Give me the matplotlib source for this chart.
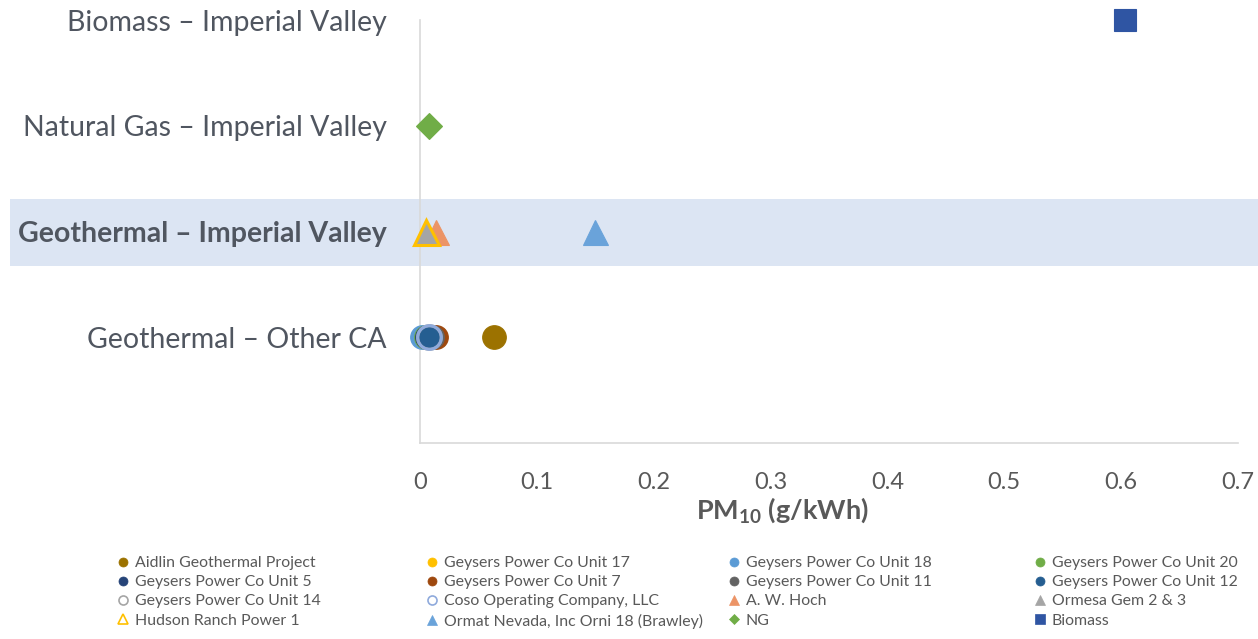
import matplotlib
matplotlib.use("Agg")
import matplotlib.pyplot as plt

plt.rcParams["font.family"] = ["Lato", "DejaVu Sans"]
plt.rcParams["mathtext.fontset"] = "custom"
plt.rcParams["mathtext.bf"] = "Lato:bold"
plt.rcParams["mathtext.rm"] = "Lato"

# rows of the chart, bottom to top
categories = [
    "Geothermal – Other CA",
    "Geothermal – Imperial Valley",
    "Natural Gas – Imperial Valley",
    "Biomass – Imperial Valley",
]

plants = [
    "Aidlin Geothermal Project", "Geysers Power Co Unit 17",
    "Geysers Power Co Unit 18", "Geysers Power Co Unit 20",
    "Geysers Power Co Unit 5", "Geysers Power Co Unit 7",
    "Geysers Power Co Unit 11", "Geysers Power Co Unit 12",
    "Geysers Power Co Unit 14", "Coso Operating Company, LLC",
    "A. W. Hoch", "Ormesa Gem 2 & 3",
    "Hudson Ranch Power 1", "Ormat Nevada, Inc Orni 18 (Brawley)",
    "NG", "Biomass",
]
plant_row = [0, 0, 0, 0, 0, 0, 0, 0, 0, 0, 1, 1, 1, 1, 2, 3]
pm10 = [0.063, 0.007, 0.002, 0.005, 0.006, 0.014, 0.010, 0.008,
        0.008, 0.008, 0.014, 0.005, 0.005, 0.150, 0.008, 0.603]

x_ticks = [0, 0.1, 0.2, 0.3, 0.4, 0.5, 0.6, 0.7]

# marker, face colour, edge colour
styles = [
    ("o", "#9C7200", "#9C7200"),
    ("o", "#FFC000", "#FFC000"),
    ("o", "#5B9BD5", "#5B9BD5"),
    ("o", "#70AD47", "#70AD47"),
    ("o", "#264478", "#264478"),
    ("o", "#9E480E", "#9E480E"),
    ("o", "#636363", "#636363"),
    ("o", "#255E91", "#255E91"),
    ("o", "none", "#A5A5A5"),
    ("o", "none", "#8FAADC"),
    ("^", "#EC9466", "#EC9466"),
    ("^", "#A5A5A5", "#A5A5A5"),
    ("^", "none", "#FFC000"),
    ("^", "#6AA3DA", "#6AA3DA"),
    ("D", "#70AD47", "#70AD47"),
    ("s", "#2F55A3", "#2F55A3"),
]
sizes = {"o": 17, "^": 18, "D": 13, "s": 16}

W, H = 1258, 639
fig = plt.figure(figsize=(W / 100, H / 100), dpi=100)
ax = fig.add_axes([420 / W, 1 - 443 / H, 818 / W, 423 / H])

ax.axhspan(1.67, 2.31, xmin=-0.501, xmax=1.03, color="#DCE5F3",
           zorder=0, clip_on=False, lw=0)

handles = []
for name, row, val, (mk, fc, ec) in zip(plants, plant_row, pm10, styles):
    lw = 2.2 if fc == "none" else 0.8
    (h,) = ax.plot([val], [row + 1], linestyle="none", marker=mk,
                   markersize=sizes[mk], markerfacecolor=fc,
                   markeredgecolor=ec, markeredgewidth=lw, label=name,
                   zorder=3, clip_on=False)
    handles.append(h)

ax.set_xlim(0, 0.7)
ax.set_ylim(0, 4)
ax.set_xticks(x_ticks)
ax.set_xticklabels([f"{t:g}" for t in x_ticks])
ax.set_yticks(range(1, len(categories) + 1))
ax.set_yticklabels(categories)
ax.tick_params(axis="x", length=0, pad=21, labelsize=17, labelcolor="#595959")
ax.tick_params(axis="y", length=0, pad=24, labelsize=20.5, labelcolor="#505660")
ax.get_yticklabels()[1].set_fontweight("bold")

for side in ("top", "right"):
    ax.spines[side].set_visible(False)
for side in ("left", "bottom"):
    ax.spines[side].set_color("#D9D9D9")
    ax.spines[side].set_linewidth(1.2)

ax.set_xlabel(r"$\mathbf{PM_{10}}$ (g/kWh)", fontsize=19.5, fontweight="bold",
              color="#595959")
ax.xaxis.set_label_coords((783 - 420) / 818, -0.125)

# four single-column legends at fixed spacing
fs = 11.4
hl = 0.8
col_px = [123, 432, 734, 1040]
for c, cx in enumerate(col_px):
    idx = [r * 4 + c for r in range(4)]
    left = (cx - 0.5 * hl * fs * 100 / 72) / W
    leg = fig.legend([handles[i] for i in idx], [plants[i] for i in idx],
                     loc="upper left", bbox_to_anchor=(left, 1 - 556 / H),
                     frameon=False, fontsize=fs, handlelength=hl,
                     handletextpad=0.35, labelspacing=0.32, borderpad=0,
                     borderaxespad=0, numpoints=1, labelcolor="#595959")
    for lh in leg.legend_handles:
        lh.set_markersize(6.5 if lh.get_marker() != "D" else 5)
        if lh.get_markerfacecolor() == "none":
            lh.set_markeredgewidth(1.2)
        else:
            lh.set_markeredgewidth(0.5)

fig.savefig("out.png", dpi=100)
